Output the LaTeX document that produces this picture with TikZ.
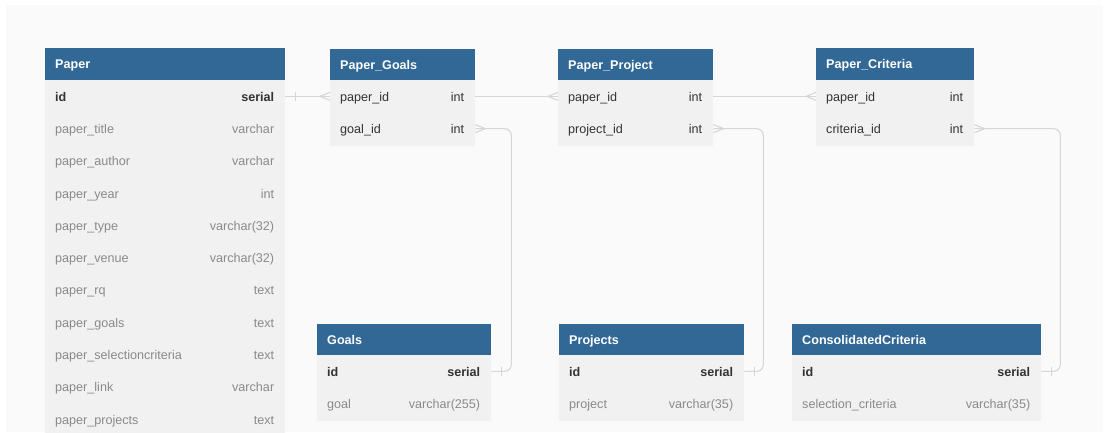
\documentclass[tikz,border=0pt]{standalone}
\usepackage{fontspec}
\setmainfont{Liberation Sans}
\definecolor{hdrblue}{HTML}{316896}
\definecolor{bodygray}{HTML}{F1F1F1}
\definecolor{canvasgray}{HTML}{FAFAFA}
\definecolor{keytext}{HTML}{333333}
\definecolor{dimtext}{HTML}{8A8A8A}
\definecolor{linegray}{HTML}{D6D6D6}
\tikzset{
  hdrbox/.style={fill=hdrblue, draw=none, anchor=north west, minimum height=32, inner sep=0},
  rowbox/.style={fill=bodygray, draw=none, anchor=north west, minimum height=32.3, inner sep=0},
  hdrtext/.style={text=white, font=\fontsize{12.6}{14}\selectfont\bfseries, inner sep=0, text height=9.2, text depth=2.8},
  keyf/.style={text=keytext, font=\fontsize{12.6}{14}\selectfont\bfseries, inner sep=0, text height=9.2, text depth=2.8},
  fkf/.style={text=keytext, font=\fontsize{12.6}{14}\selectfont, inner sep=0, text height=9.2, text depth=2.8},
  dimf/.style={text=dimtext, font=\fontsize{12.6}{14}\selectfont, inner sep=0, text height=9.2, text depth=2.8},
  conn/.style={draw=linegray, line width=1.1pt},
}
\newcommand\myhdr[5]{% name, x, ytop, width, title
  \node[hdrbox, minimum width=#4] (#1) at (#2,#3) {};
  \node[hdrtext, anchor=west] (#1-n) at ([xshift=10,yshift=-1.2]#1.west) {#5};
}
\newcommand\myrow[7]{% name, x, ytop, width, field, type, style
  \node[rowbox, minimum width=#4] (#1) at (#2,#3) {};
  \node[#7, anchor=west] (#1-n) at ([xshift=10,yshift=-1.6]#1.west) {#5};
  \node[#7, anchor=east] (#1-t) at ([xshift=-11,yshift=-1.6]#1.east) {#6};
}
\begin{document}
\begin{tikzpicture}[x=1pt, y=-1pt]
\useasboundingbox (0,0) rectangle (1105,432);
\fill[white] (0,0) rectangle (1105,432);
\fill[canvasgray] (6,5) rectangle (1103,432);
\begin{scope}
\clip (0,0) rectangle (1105,432);
% Paper
\myhdr{p}{45}{48}{240}{Paper}
\myrow{p-id}{45}{80}{240}{id}{serial}{keyf}
\myrow{p-title}{45}{112.3}{240}{paper\_title}{varchar}{dimf}
\myrow{p-author}{45}{144.6}{240}{paper\_author}{varchar}{dimf}
\myrow{p-year}{45}{176.9}{240}{paper\_year}{int}{dimf}
\myrow{p-type}{45}{209.2}{240}{paper\_type}{varchar(32)}{dimf}
\myrow{p-venue}{45}{241.5}{240}{paper\_venue}{varchar(32)}{dimf}
\myrow{p-rq}{45}{273.8}{240}{paper\_rq}{text}{dimf}
\myrow{p-goals}{45}{306.1}{240}{paper\_goals}{text}{dimf}
\myrow{p-sel}{45}{338.4}{240}{paper\_selectioncriteria}{text}{dimf}
\myrow{p-link}{45}{370.7}{240}{paper\_link}{varchar}{dimf}
\myrow{p-proj}{45}{403}{240}{paper\_projects}{text}{dimf}
\end{scope}
% Paper_Goals
\myhdr{pg}{330}{48.5}{145}{Paper\_Goals}
\myrow{pg-paper}{330}{80}{145}{paper\_id}{int}{fkf}
\myrow{pg-goal}{330}{112.3}{145}{goal\_id}{int}{fkf}
\fill[bodygray] (330,144.5) rectangle (475,146);
% Paper_Project
\myhdr{pp}{558}{48.5}{155}{Paper\_Project}
\myrow{pp-paper}{558}{80}{155}{paper\_id}{int}{fkf}
\myrow{pp-proj}{558}{112.3}{155}{project\_id}{int}{fkf}
\fill[bodygray] (558,144.5) rectangle (713,146);
% Paper_Criteria
\myhdr{pc}{816}{48}{158}{Paper\_Criteria}
\myrow{pc-paper}{816}{80}{158}{paper\_id}{int}{fkf}
\myrow{pc-crit}{816}{112.3}{158}{criteria\_id}{int}{fkf}
\fill[bodygray] (816,144.5) rectangle (974,145.5);
% Goals
\myhdr{g}{317}{323.5}{174}{Goals}
\myrow{g-id}{317}{355}{174}{id}{serial}{keyf}
\myrow{g-goal}{317}{387.3}{174}{goal}{varchar(255)}{dimf}
\fill[bodygray] (317,419.5) rectangle (491,421);
% Projects
\myhdr{pr}{559}{323.5}{185}{Projects}
\myrow{pr-id}{559}{355}{185}{id}{serial}{keyf}
\myrow{pr-proj}{559}{387.3}{185}{project}{varchar(35)}{dimf}
\fill[bodygray] (559,419.5) rectangle (744,421);
% ConsolidatedCriteria
\myhdr{cc}{792}{323.5}{249}{ConsolidatedCriteria}
\myrow{cc-id}{792}{355}{249}{id}{serial}{keyf}
\myrow{cc-sel}{792}{387.3}{249}{selection\_criteria}{varchar(35)}{dimf}
\fill[bodygray] (792,419.5) rectangle (1041,421);

% Connectors
% Paper.id -> Paper_Goals.paper_id
\draw[conn] (p-id.east) -- (pg-paper.west);
\draw[conn] ([xshift=10,yshift=4.5]p-id.east) -- ([xshift=10,yshift=-4.5]p-id.east);
\draw[conn] ([yshift=4]pg-paper.west) -- ([xshift=-10]pg-paper.west) -- ([yshift=-4]pg-paper.west);
% Paper_Goals -> Paper_Project
\draw[conn] (pg-paper.east) -- (pp-paper.west);
\draw[conn] ([yshift=4]pp-paper.west) -- ([xshift=-10]pp-paper.west) -- ([yshift=-4]pp-paper.west);
% Paper_Project -> Paper_Criteria
\draw[conn] (pp-paper.east) -- (pc-paper.west);
\draw[conn] ([yshift=4]pc-paper.west) -- ([xshift=-10]pc-paper.west) -- ([yshift=-4]pc-paper.west);
% goal_id -> Goals.id
\draw[conn, rounded corners=7] (pg-goal.east) -- ++(36,0) |- (g-id.east);
\draw[conn] ([yshift=4]pg-goal.east) -- ([xshift=10]pg-goal.east) -- ([yshift=-4]pg-goal.east);
\draw[conn] ([xshift=10,yshift=4.5]g-id.east) -- ([xshift=10,yshift=-4.5]g-id.east);
% project_id -> Projects.id
\draw[conn, rounded corners=7] (pp-proj.east) -- ++(50,0) |- (pr-id.east);
\draw[conn] ([yshift=4]pp-proj.east) -- ([xshift=10]pp-proj.east) -- ([yshift=-4]pp-proj.east);
\draw[conn] ([xshift=10,yshift=4.5]pr-id.east) -- ([xshift=10,yshift=-4.5]pr-id.east);
% criteria_id -> ConsolidatedCriteria.id
\draw[conn, rounded corners=7] (pc-crit.east) -- ++(86,0) |- (cc-id.east);
\draw[conn] ([yshift=4]pc-crit.east) -- ([xshift=10]pc-crit.east) -- ([yshift=-4]pc-crit.east);
\draw[conn] ([xshift=10,yshift=4.5]cc-id.east) -- ([xshift=10,yshift=-4.5]cc-id.east);
\end{tikzpicture}
\end{document}
